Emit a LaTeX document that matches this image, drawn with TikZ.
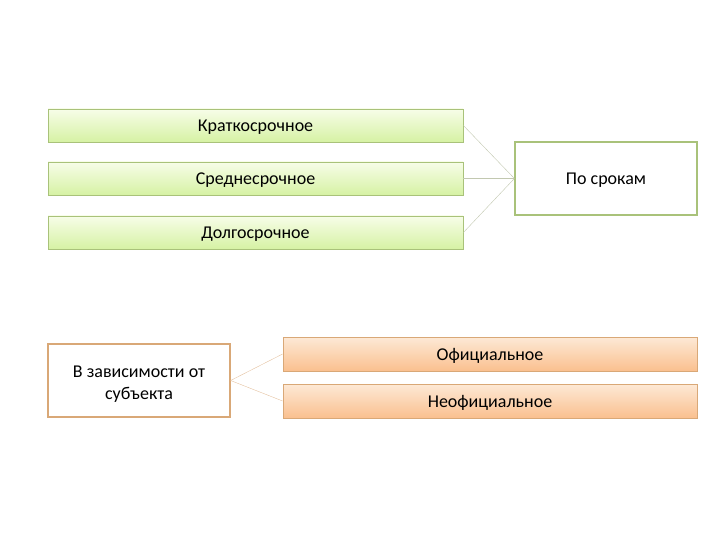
\documentclass[tikz,border=0pt]{standalone}
\usepackage{fontspec}
\setmainfont{Carlito}
\usetikzlibrary{positioning}
\definecolor{termline}{HTML}{A9C27A}
\definecolor{termtop}{HTML}{F7FDE8}
\definecolor{termbot}{HTML}{D6F2A4}
\definecolor{subjline}{HTML}{D9A877}
\definecolor{subjtop}{HTML}{FDE9D6}
\definecolor{subjbot}{HTML}{FAC08F}
\definecolor{linkline}{HTML}{C2C8B0}

\begin{document}
\begin{tikzpicture}[x=1pt, y=-1pt,
    every node/.style={font=\fontsize{18}{22}\selectfont, inner sep=0pt},
    oneline/.style={text height=15pt, text depth=2pt},
    termbox/.style={oneline, draw=termline, thick, top color=termtop, bottom color=termbot,
      minimum width=415pt, minimum height=33pt},
    subjbox/.style={oneline, draw=subjline, thick, top color=subjtop, bottom color=subjbot,
      minimum width=414pt, minimum height=34pt},
    headbox/.style={draw=#1, very thick, fill=white, minimum width=182pt,
      minimum height=73pt, align=center},
    link/.style={draw=linkline, thin}]
  \useasboundingbox (0,0) rectangle (720,540);

  % By term
  \node[termbox] (kratko) at (255.5,125.5) {Краткосрочное};
  \node[termbox] (sredne) at (255.5,178.5) {Среднесрочное};
  \node[termbox] (dolgo)  at (255.5,232.5) {Долгосрочное};
  \node[headbox=termline, oneline] (srok) at (606,178.5) {По срокам};

  \draw[link] (kratko.east) -- (srok.west);
  \draw[link] (sredne.east) -- (srok.west);
  \draw[link] (dolgo.east)  -- (srok.west);

  % By subject
  \node[headbox=subjline] (subj) at (139,380.5) {\\[-3.5pt]В зависимости от\\субъекта};
  \node[subjbox] (ofic)   at (490,354) {Официальное};
  \node[subjbox] (neofic) at (490,401) {Неофициальное};

  \draw[link, draw=subjline!70] (subj.east) -- (ofic.west);
  \draw[link, draw=subjline!70] (subj.east) -- (neofic.west);
\end{tikzpicture}
\end{document}
